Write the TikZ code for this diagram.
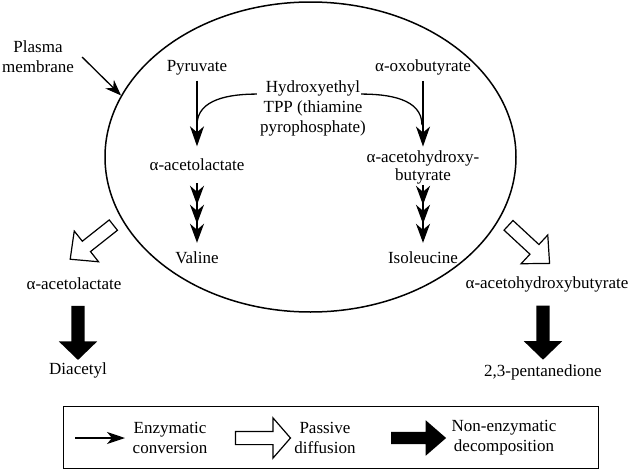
\documentclass[tikz,border=0pt]{standalone}
\usepackage{fontspec}
\setmainfont{Liberation Serif}
\usetikzlibrary{arrows.meta,positioning,shapes.geometric,shapes.arrows}

\begin{document}
\begin{tikzpicture}[
  x=1pt, y=-1pt,
  font=\fontsize{17}{20}\selectfont,
  >={Stealth[length=20pt,width=14pt,inset=6pt]},
  lbl/.style={inner sep=0pt, align=center},
  conv/.style={->, line width=1.3pt},
  chain/.style={line width=1.3pt, -{Stealth[length=19pt,width=14pt,inset=6pt] Stealth[length=19pt,width=14pt,inset=6pt] Stealth[length=19pt,width=14pt,inset=6pt]}},
  diffuse/.style={single arrow, draw, line width=1.2pt, fill=white, inner xsep=0pt, inner ysep=6pt, minimum width=0pt, single arrow head extend=13pt, single arrow tip angle=87},
  decomp/.style={single arrow, fill=black, inner xsep=0pt, inner ysep=6.5pt, minimum width=0pt, single arrow head extend=12.5pt, single arrow tip angle=92},
  along/.style={sloped, allow upside down}
]
\useasboundingbox (0,0) rectangle (630,469);
\node[draw, ellipse, line width=1.5pt, minimum width=411pt, minimum height=310pt, inner sep=0pt] (cell) at (310.5,157) {};

\node[lbl] (membrane) at (38,57) {Plasma\\membrane};
\node[lbl] (pyr) at (197,67.5) {Pyruvate};
\node[lbl] (oxo) at (423,67.5) {α-oxobutyrate};
\node[lbl] (tpp) at (313,108.5) {Hydroxyethyl\\TPP (thiamine\\pyrophosphate)};
\node[lbl] (alac) at (197,165) {α-acetolactate};
\node[lbl, font=\fontsize{17}{18}\selectfont] (ahb) at (423,167) {α-acetohydroxy-\\butyrate};
\node[lbl] (val) at (197,257.5) {Valine};
\node[lbl] (ile) at (423,257.5) {Isoleucine};
\node[lbl] (alacout) at (74,284) {α-acetolactate};
\node[lbl] (diacetyl) at (78,370) {Diacetyl};
\node[lbl] (ahbout) at (547,284) {α-acetohydroxybutyrate};
\node[lbl] (pent) at (543,372) {2,3-pentanedione};

\coordinate (lmerge) at (197,125);
\coordinate (rmerge) at (422,125);
\coordinate (ltail) at (116,223);
\coordinate (ltip) at (73,257);
\coordinate (rtail) at (506,223);
\coordinate (rtip) at (547,261);

\draw[->, line width=1.3pt, >={Stealth[length=16pt,width=12pt,inset=5pt]}] ([xshift=8pt]membrane.east) -- (cell.162);
\draw[conv, shorten <=5.5pt, shorten >=12.5pt] (pyr) -- (alac);
\draw[conv, shorten <=5.5pt, shorten >=3.5pt] (oxo) -- (ahb);
\draw[line width=1.3pt] ([xshift=-3pt,yshift=-13.5pt]tpp.north west) to[out=180,in=90] (lmerge);
\draw[line width=1.3pt] ([xshift=-5pt,yshift=-13.5pt]tpp.north east) to[out=0,in=90] (rmerge);
\draw[chain, shorten <=12pt, shorten >=8.5pt] (alac) -- (val);
\draw[chain, shorten <=1pt, shorten >=8.5pt] (ahb) -- (ile);

\path (ltail) -- node[diffuse, along, minimum height=55pt] {} (ltip);
\path (rtail) -- node[diffuse, along, minimum height=56pt] {} (rtip);
\path (alacout.south -| diacetyl) -- node[decomp, along, pos=0.55, minimum height=54pt] {} (diacetyl.north);
\path (ahbout.south -| pent) -- node[decomp, along, pos=0.52, minimum height=54pt] {} (pent.north);

\node[draw, line width=1pt, minimum width=535pt, minimum height=62pt, inner sep=0pt] (legend) at (330.5,437) {};
\node[lbl] (kenz) at (170,438) {Enzymatic\\conversion};
\node[lbl] (kdiff) at (325,438) {Passive\\diffusion};
\node[lbl] (kdec) at (504,438) {Non-enzymatic\\decomposition};
\draw[->, line width=1.3pt, >={Stealth[length=18pt,width=12pt,inset=5pt]}] ([xshift=-95pt]kenz.center) -- ([xshift=-45pt]kenz.center);
\node[diffuse, minimum height=55pt, single arrow head extend=13.5pt, single arrow tip angle=98, left=3pt of kdiff] (kdiffarrow) {};
\node[decomp, minimum height=55pt, inner ysep=6pt, single arrow head extend=11.5pt, single arrow tip angle=82, left=5pt of kdec] (kdecarrow) {};
\end{tikzpicture}
\end{document}
